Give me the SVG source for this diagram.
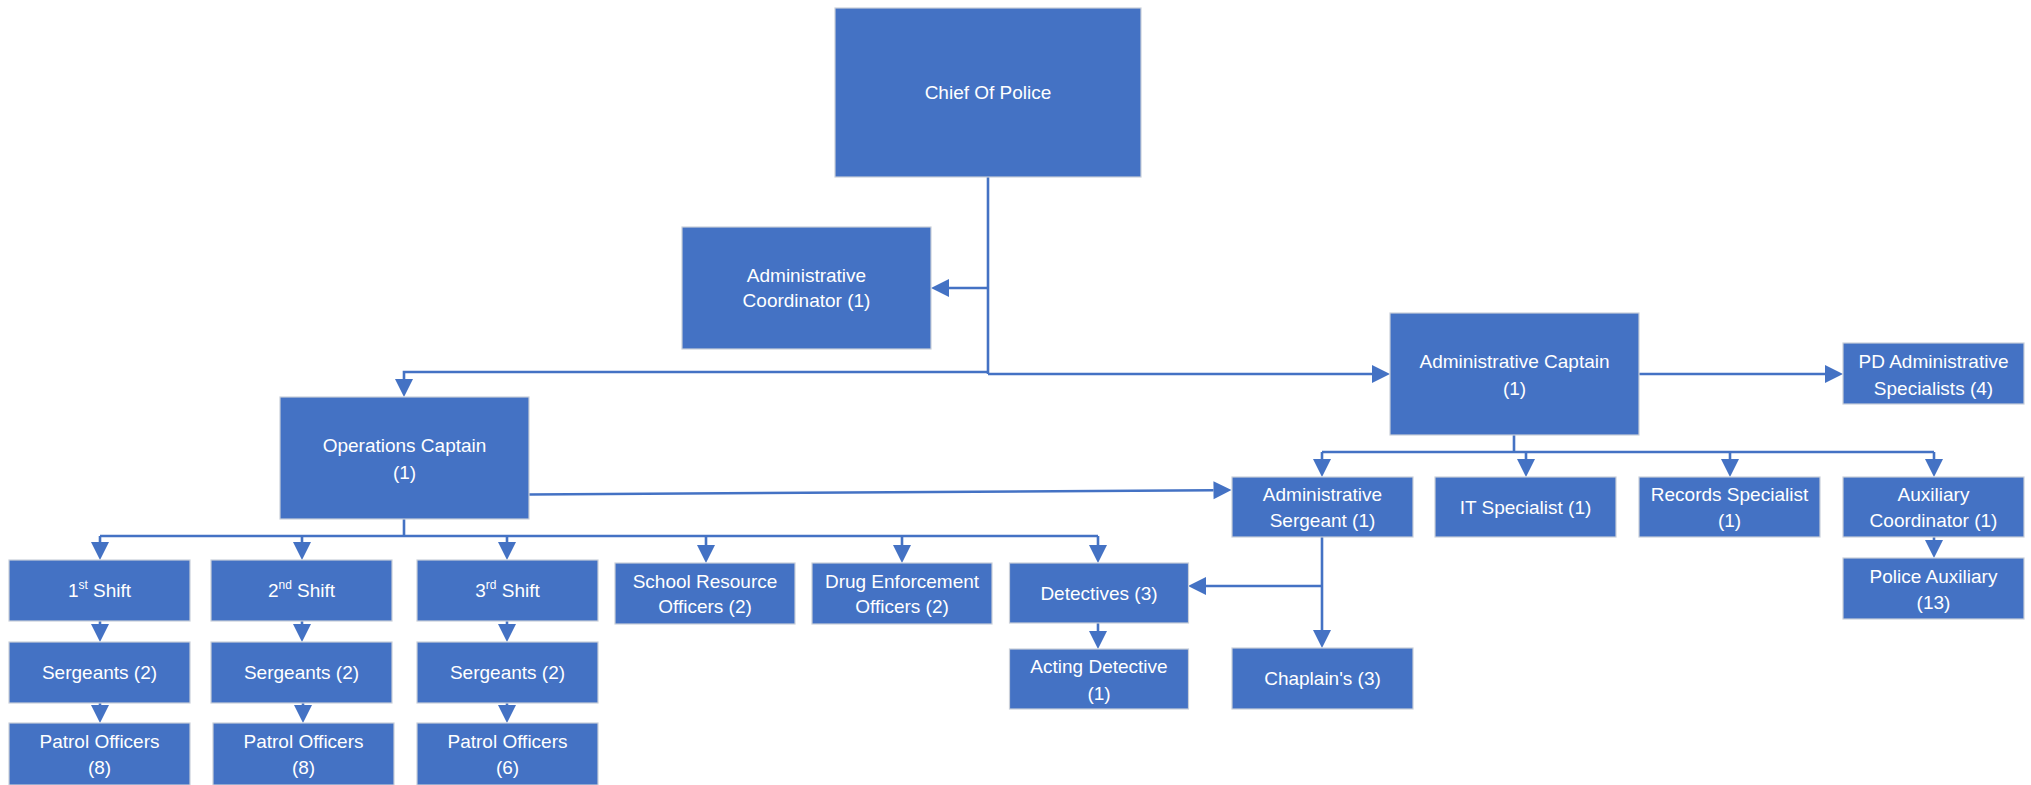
<svg xmlns="http://www.w3.org/2000/svg" width="2031" height="785" viewBox="0 0 2031 785">
<style>
.box{fill:#4472C4;stroke:#c9cfd9;stroke-width:1.2}
.t{font-family:"Liberation Sans",Arial,sans-serif;font-size:19px;fill:#ffffff;text-anchor:middle}
.sup{font-size:12px}
.c{fill:none;stroke:#4472C4;stroke-width:2.6}
.a{marker-end:url(#ah)}
</style>
<defs>
<marker id="ah" markerUnits="userSpaceOnUse" markerWidth="18" markerHeight="18" refX="0" refY="9" orient="auto" overflow="visible">
<path d="M0,0 L18,9 L0,18 Z" fill="#4472C4"/>
</marker>
</defs>
<rect width="2031" height="785" fill="#ffffff"/>
<g id="connectors">
<path class="c" d="M988,177 V374"/>
<path class="c a" d="M988,372 H404 V379"/>
<path class="c a" d="M988,374 H1372"/>
<path class="c a" d="M988,288 H949"/>
<path class="c a" d="M1639,374 H1825"/>
<path class="c" d="M1514,435 V452 M1322,452 H1934"/>
<path class="c a" d="M1322,452 V459"/>
<path class="c a" d="M1526,452 V459"/>
<path class="c a" d="M1730,452 V459"/>
<path class="c a" d="M1934,452 V459"/>
<path class="c a" d="M529,494.5 L1213.5,490.2"/>
<path class="c" d="M404,519 V536 M100,536 H1098"/>
<path class="c a" d="M100,536 V542"/>
<path class="c a" d="M302,536 V542"/>
<path class="c a" d="M507,536 V542"/>
<path class="c a" d="M706,536 V545"/>
<path class="c a" d="M902,536 V545"/>
<path class="c a" d="M1098,536 V545"/>
<path class="c a" d="M100,621 V624"/>
<path class="c a" d="M302,621 V624"/>
<path class="c a" d="M507,621 V624"/>
<path class="c a" d="M100,703 V705"/>
<path class="c a" d="M303,703 V705"/>
<path class="c a" d="M507,703 V705"/>
<path class="c a" d="M1322,537 V630"/>
<path class="c a" d="M1322,586 H1206"/>
<path class="c a" d="M1098,623 V631"/>
<path class="c a" d="M1934,537 V540"/>
</g>
<g id="chief"><rect class="box" x="835" y="8" width="306" height="169"/><text class="t" x="988" y="99">Chief Of Police</text></g>
<g id="admin-coordinator"><rect class="box" x="682" y="227" width="249" height="122"/><text class="t" x="806.5" y="282">Administrative</text><text class="t" x="806.5" y="307">Coordinator (1)</text></g>
<g id="admin-captain"><rect class="box" x="1390" y="313" width="249" height="122"/><text class="t" x="1514.5" y="368">Administrative Captain</text><text class="t" x="1514.5" y="395">(1)</text></g>
<g id="pd-specialists"><rect class="box" x="1843" y="343" width="181" height="61"/><text class="t" x="1933.5" y="368">PD Administrative</text><text class="t" x="1933.5" y="395">Specialists (4)</text></g>
<g id="ops-captain"><rect class="box" x="280" y="397" width="249" height="122"/><text class="t" x="404.5" y="452">Operations Captain</text><text class="t" x="404.5" y="479">(1)</text></g>
<g id="admin-sergeant"><rect class="box" x="1232" y="477" width="181" height="60"/><text class="t" x="1322.5" y="501">Administrative</text><text class="t" x="1322.5" y="527">Sergeant (1)</text></g>
<g id="it-specialist"><rect class="box" x="1435" y="477" width="181" height="60"/><text class="t" x="1525.5" y="514">IT Specialist (1)</text></g>
<g id="records-specialist"><rect class="box" x="1639" y="477" width="181" height="60"/><text class="t" x="1729.5" y="501">Records Specialist</text><text class="t" x="1729.5" y="527">(1)</text></g>
<g id="aux-coordinator"><rect class="box" x="1843" y="477" width="181" height="60"/><text class="t" x="1933.5" y="501">Auxiliary</text><text class="t" x="1933.5" y="527">Coordinator (1)</text></g>
<g id="police-auxiliary"><rect class="box" x="1843" y="558" width="181" height="61"/><text class="t" x="1933.5" y="583">Police Auxiliary</text><text class="t" x="1933.5" y="609">(13)</text></g>
<g id="shift1"><rect class="box" x="9" y="560" width="181" height="61"/><text class="t" x="99.5" y="597">1<tspan class="sup" dy="-8">st</tspan><tspan dy="8"> Shift</tspan></text></g>
<g id="shift2"><rect class="box" x="211" y="560" width="181" height="61"/><text class="t" x="301.5" y="597">2<tspan class="sup" dy="-8">nd</tspan><tspan dy="8"> Shift</tspan></text></g>
<g id="shift3"><rect class="box" x="417" y="560" width="181" height="61"/><text class="t" x="507.5" y="597">3<tspan class="sup" dy="-8">rd</tspan><tspan dy="8"> Shift</tspan></text></g>
<g id="school-resource"><rect class="box" x="615" y="563" width="180" height="61"/><text class="t" x="705" y="588">School Resource</text><text class="t" x="705" y="613">Officers (2)</text></g>
<g id="drug-enforcement"><rect class="box" x="812" y="563" width="180" height="61"/><text class="t" x="902" y="588">Drug Enforcement</text><text class="t" x="902" y="613">Officers (2)</text></g>
<g id="detectives"><rect class="box" x="1009.5" y="563" width="179" height="60"/><text class="t" x="1099" y="600">Detectives (3)</text></g>
<g id="sergeants1"><rect class="box" x="9" y="642" width="181" height="61"/><text class="t" x="99.5" y="679">Sergeants (2)</text></g>
<g id="sergeants2"><rect class="box" x="211" y="642" width="181" height="61"/><text class="t" x="301.5" y="679">Sergeants (2)</text></g>
<g id="sergeants3"><rect class="box" x="417" y="642" width="181" height="61"/><text class="t" x="507.5" y="679">Sergeants (2)</text></g>
<g id="acting-detective"><rect class="box" x="1009.5" y="649" width="179" height="60"/><text class="t" x="1099" y="673">Acting Detective</text><text class="t" x="1099" y="700">(1)</text></g>
<g id="chaplains"><rect class="box" x="1232" y="648" width="181" height="61"/><text class="t" x="1322.5" y="685">Chaplain's (3)</text></g>
<g id="patrol1"><rect class="box" x="9" y="723" width="181" height="62"/><text class="t" x="99.5" y="748">Patrol Officers</text><text class="t" x="99.5" y="774">(8)</text></g>
<g id="patrol2"><rect class="box" x="213" y="723" width="181" height="62"/><text class="t" x="303.5" y="748">Patrol Officers</text><text class="t" x="303.5" y="774">(8)</text></g>
<g id="patrol3"><rect class="box" x="417" y="723" width="181" height="62"/><text class="t" x="507.5" y="748">Patrol Officers</text><text class="t" x="507.5" y="774">(6)</text></g>
</svg>
